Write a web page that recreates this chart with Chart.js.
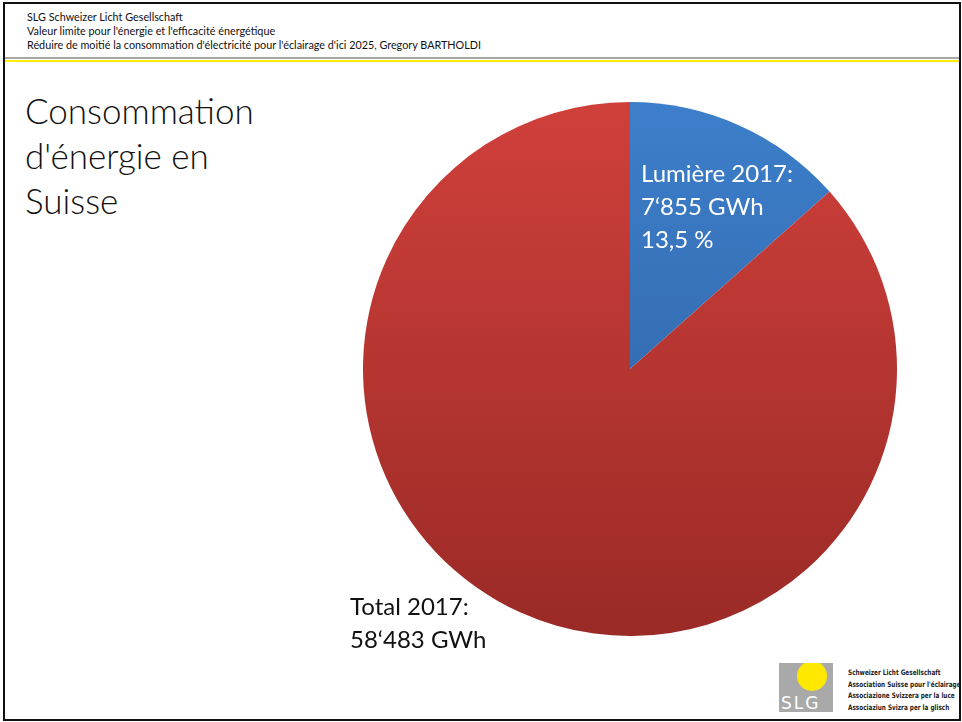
<!DOCTYPE html>
<html>
<head>
<meta charset="utf-8">
<script src="https://cdn.jsdelivr.net/npm/chart.js@4"></script>
<style>
  body { margin: 0; width: 962px; height: 722px; background: #fff; font-family: Lato, "Open Sans", sans-serif; overflow: hidden; }
  #cadre { position: absolute; left: 3px; top: 2px; width: 954px; height: 715px; border: 2px solid #111; }
  #entete { position: absolute; left: 27px; top: 10px; font-size: 10.8px; line-height: 14px; color: #111; }
  #ligneGrise { position: absolute; left: 5px; top: 57px; width: 954px; height: 2px; background: #a8a8a8; }
  #ligneJaune { position: absolute; left: 5px; top: 60px; width: 954px; height: 2px; background: #ffee00; }
  #titre { position: absolute; left: 25px; top: 88px; font-size: 35px; line-height: 45px; font-weight: 300; color: #111; }
  #zone { position: absolute; left: 363px; top: 102px; width: 534px; height: 534px; }
  .etiquette { position: absolute; font-size: 24px; line-height: 33px; font-weight: 400; }
  #etLumiere { left: 641px; top: 156px; color: #fff; }
  #etTotal { left: 350px; top: 589px; color: #111; }
  #logo { position: absolute; left: 779px; top: 663px; width: 54px; height: 49px; background: #a9a9a9; overflow: hidden; }
  #soleil { position: absolute; left: 18px; top: -2px; width: 30px; height: 30px; border-radius: 50%; background: #ffe800; }
  #slg { position: absolute; left: 2px; top: 30px; color: #fff; font-size: 17px; font-family: "DejaVu Sans", sans-serif; letter-spacing: 2px; }
  #logoTexte { position: absolute; left: 848px; top: 667px; font-size: 7.5px; line-height: 11.5px; font-weight: bold; white-space: nowrap; font-family: "DejaVu Sans Condensed", "DejaVu Sans", sans-serif; color: #222; transform: scaleX(0.85); transform-origin: left top; }
</style>
</head>
<body>
<div id="cadre"></div>
<div id="entete">
  SLG Schweizer Licht Gesellschaft<br>
  Valeur limite pour l'énergie et l'efficacité énergétique<br>
  Réduire de moitié la consommation d'électricité pour l'éclairage d'ici 2025, Gregory BARTHOLDI
</div>
<div id="ligneGrise"></div>
<div id="ligneJaune"></div>
<div id="titre">Consommation<br>d'énergie en<br>Suisse</div>
<div id="zone"><canvas id="grafica"></canvas></div>
<div class="etiquette" id="etLumiere">Lumière 2017:<br>7‘855 GWh<br>13,5 %</div>
<div class="etiquette" id="etTotal">Total 2017:<br>58‘483 GWh</div>
<div id="logo"><div id="soleil"></div><div id="slg">SLG</div></div>
<div id="logoTexte">
  Schweizer Licht Gesellschaft<br>
  Association Suisse pour l'éclairage<br>
  Associazione Svizzera per la luce<br>
  Associaziun Svizra per la glisch
</div>
<script>
const categorias = ["Lumière 2017", "Autres"];
const valores = [7855, 50628]; // GWh, total 58'483
const coloresArriba = ["#3d7fcb", "#d0403b"];
const coloresAbajo = ["#2c5c9c", "#9a2a26"];

function degradado(context) {
  const chart = context.chart;
  const area = chart.chartArea;
  if (!area) return coloresArriba[context.dataIndex];
  const g = chart.ctx.createLinearGradient(0, area.top, 0, area.bottom);
  g.addColorStop(0, coloresArriba[context.dataIndex]);
  g.addColorStop(1, coloresAbajo[context.dataIndex]);
  return g;
}

const ctx = document.getElementById("grafica").getContext("2d");
const grafica = new Chart(ctx, {
  type: "pie",
  data: {
    labels: categorias,
    datasets: [
      {
        data: valores,
        backgroundColor: degradado,
        borderWidth: 0,
      },
    ],
  },
  options: {
    responsive: true,
    maintainAspectRatio: false,
    animation: false,
    layout: { padding: 0 },
    plugins: {
      legend: { display: false },
      tooltip: { enabled: false },
    },
  },
});
</script>
</body>
</html>
